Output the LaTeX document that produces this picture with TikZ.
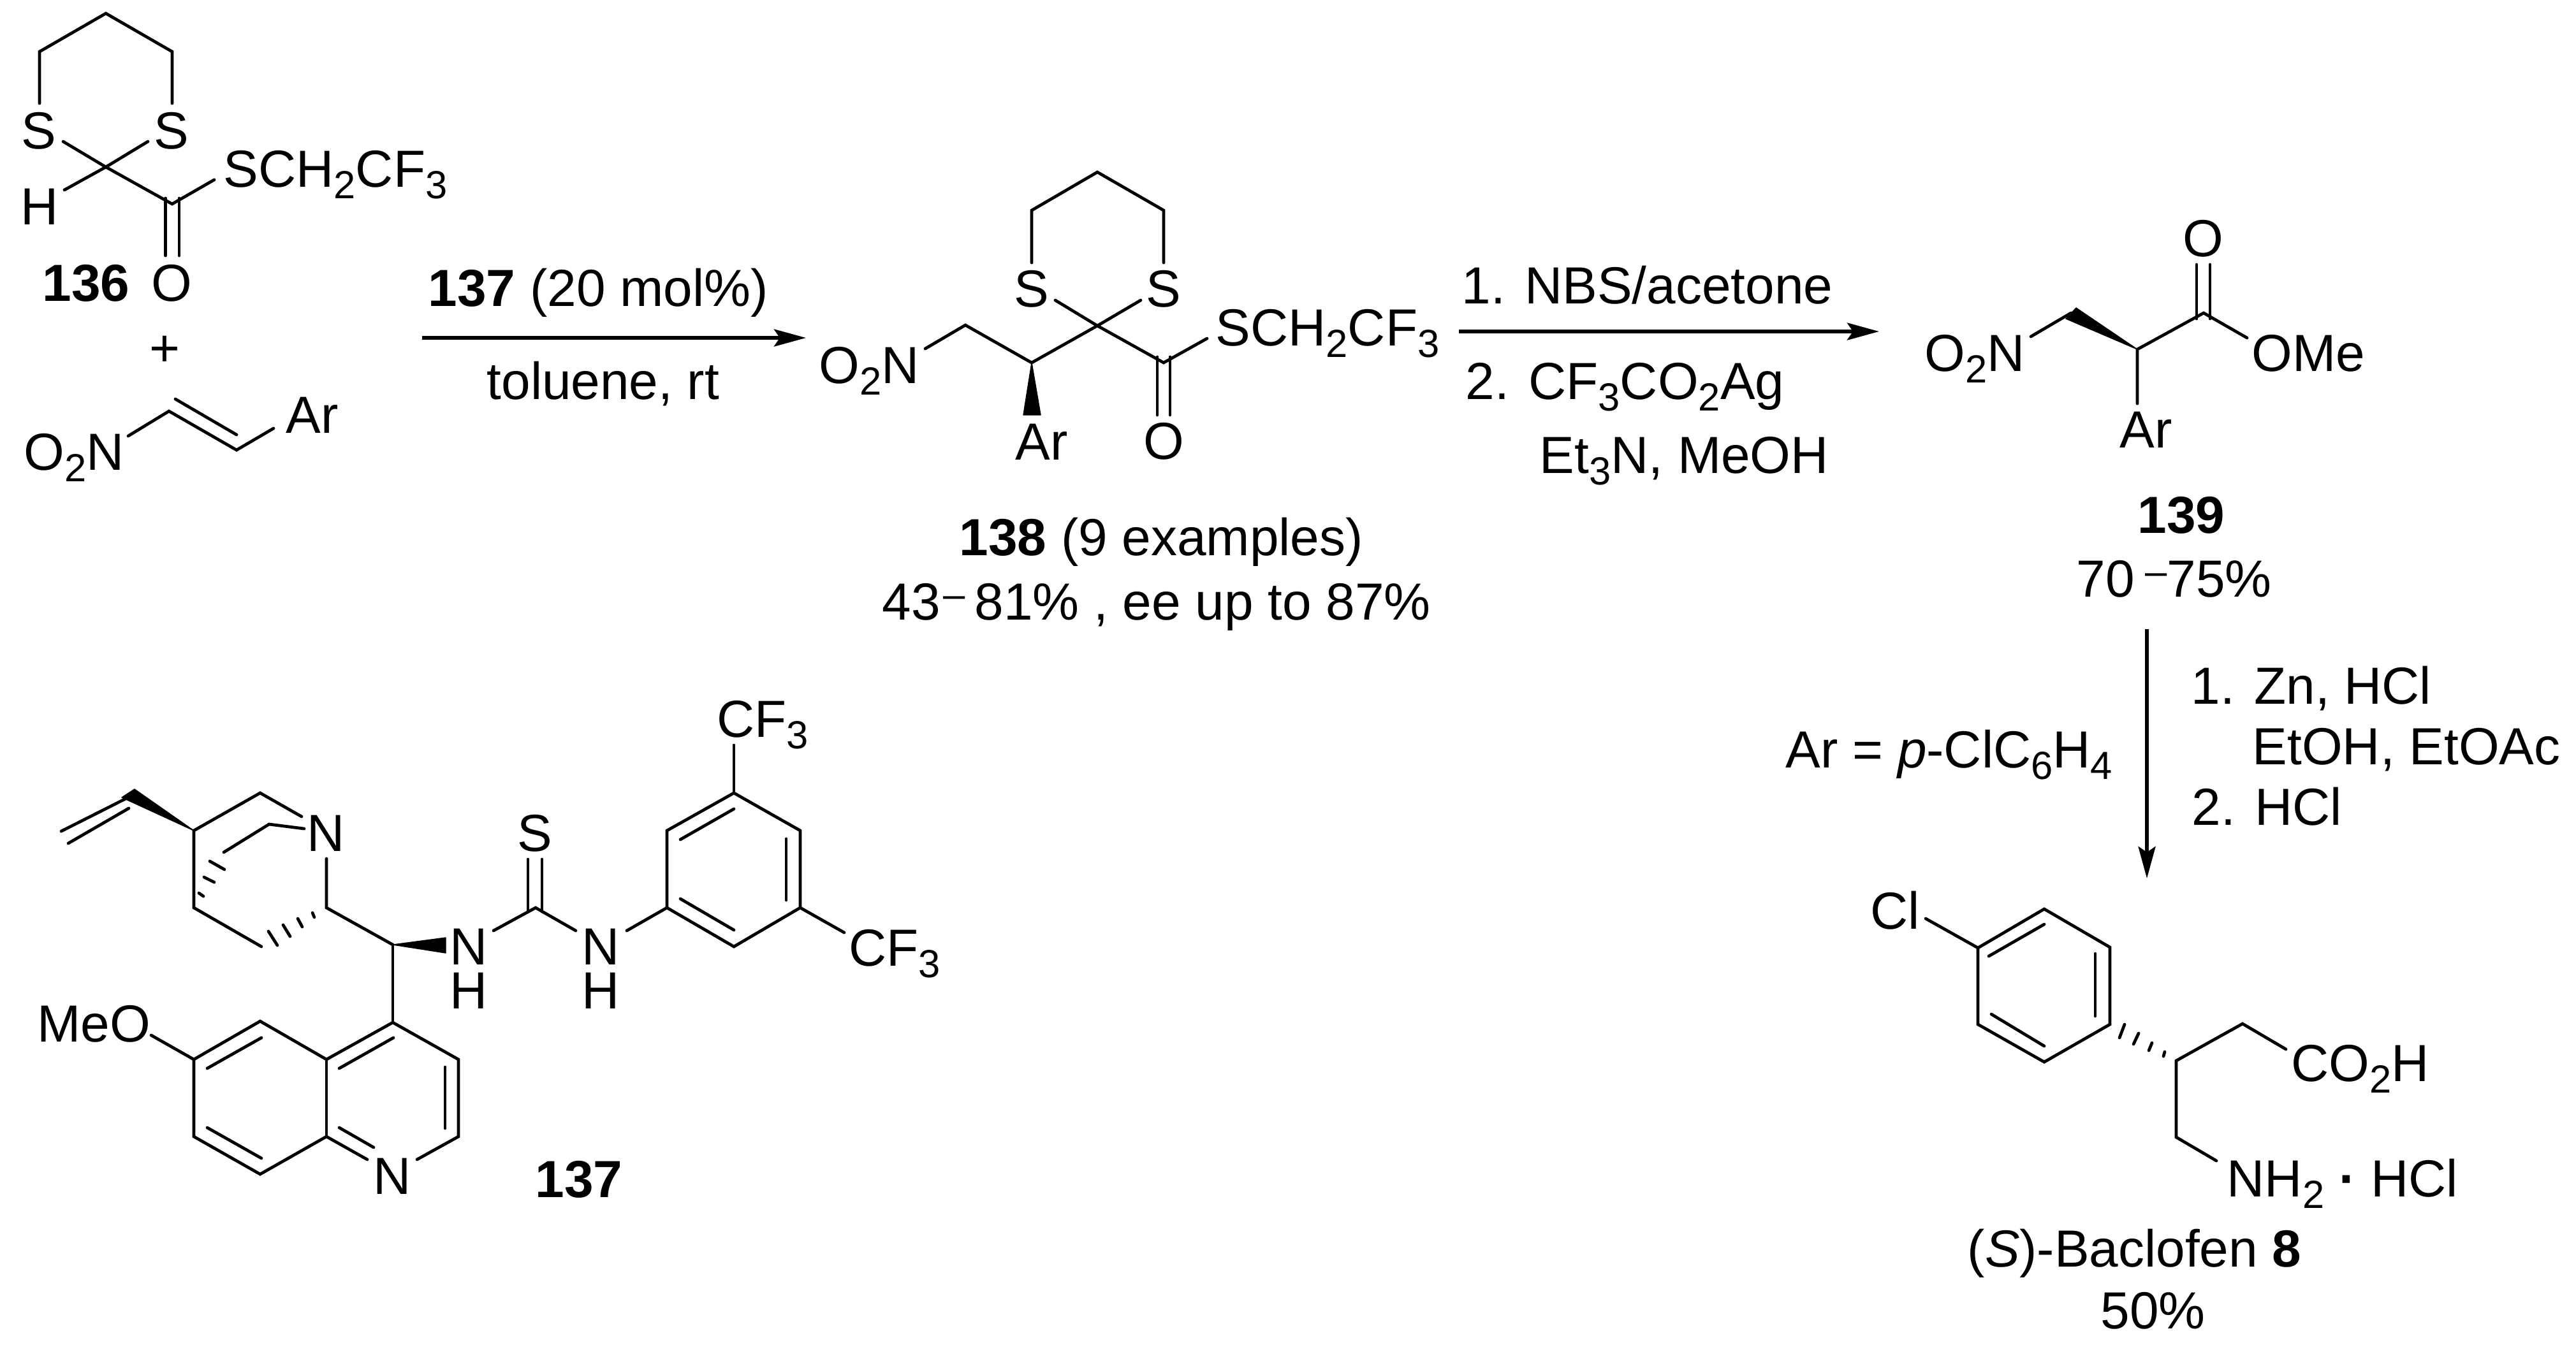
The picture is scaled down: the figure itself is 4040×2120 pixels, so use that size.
\documentclass[tikz,border=0pt]{standalone}
\usepackage{fontspec}
\setmainfont{Liberation Sans}
\usetikzlibrary{arrows.meta}
\newcommand{\chemsub}[1]{\raisebox{-0.23em}{\fontsize{17.5}{17.5}\selectfont #1}}
\newcommand{\chemdash}{\raisebox{0.23em}{\fontsize{17.5}{17.5}\selectfont –}}

\begin{document}
\begin{tikzpicture}[x=0.01cm,y=-0.01cm,
  >={Stealth[length=0.5cm,width=0.27cm,inset=0.09cm]},
  bond/.style={line width=1.35pt,line join=miter,line cap=round},
  rxn/.style={line width=1.5pt},
  wedge/.style={fill=black,draw=black,line width=0.4pt,line join=round},
  hash/.style={line width=1.35pt,line cap=round},
  atom/.style={inner sep=0pt,font=\fontsize{23.3}{28}\selectfont},
  stack/.style={inner sep=0pt,align=center,font=\fontsize{23.3}{19.6}\selectfont},
  lbl/.style={anchor=base west,inner sep=0pt,font=\fontsize{23.3}{28}\selectfont}]
\useasboundingbox (0,0) rectangle (4040,2120);
% 136
\coordinate (a1) at (166,21); \coordinate (a2) at (62,81); \coordinate (a3) at (62,162);
\coordinate (a4) at (270,81); \coordinate (a5) at (270,162);
\coordinate (a6) at (99,222); \coordinate (a7) at (232,222); \coordinate (a8) at (166,262);
\coordinate (a9) at (101,298); \coordinate (a10) at (270,320); \coordinate (a11) at (336,282);
\coordinate (a12) at (259.5,311); \coordinate (a13) at (281,311);
\coordinate (a14) at (259.5,401); \coordinate (a15) at (281,401);
\draw[bond] (a3) -- (a2) -- (a1) -- (a4) -- (a5);
\draw[bond] (a6) -- (a8) -- (a10) -- (a11);
\draw[bond] (a7) -- (a8) -- (a9);
\draw[bond] (a12) -- (a14);
\draw[bond] (a13) -- (a15);
\node[atom] (s1) at (61,205) {S};
\node[atom] (s2) at (269,205) {S};
\node[atom] (h1) at (62,324) {H};
\node[atom] (o1) at (269,444) {O};
\node[lbl] (thioester1) at (350,293) {SCH\chemsub{2}CF\chemsub{3}};
\node[atom,font=\fontsize{23.3}{28}\selectfont\bfseries] (label136) at (135,444) {136};
\node[atom] (plus) at (258,551) {+};
% nitroalkene
\coordinate (n1) at (201,684); \coordinate (n2) at (265,645); \coordinate (n3) at (371,706);
\coordinate (n4) at (429,672); \coordinate (n5) at (275,626); \coordinate (n6) at (371,682);
\draw[bond] (n1) -- (n2) -- (n3) -- (n4);
\draw[bond] (n5) -- (n6);
\node[lbl] (nitro1) at (37,737) {O\chemsub{2}N};
\node[lbl] (ar1) at (448,679) {Ar};
% first arrow
\coordinate (r1) at (662,530); \coordinate (r2) at (1264,530);
\draw[rxn,->] (r1) -- (r2);
\node[lbl] (cond1) at (671,480) {\textbf{137} (20 mol\%)};
\node[lbl] (cond2) at (763,626) {toluene, rt};
% 138
\coordinate (b1) at (1721,270); \coordinate (b2) at (1618,330); \coordinate (b3) at (1618,412);
\coordinate (b4) at (1825,330); \coordinate (b5) at (1825,412);
\coordinate (b6) at (1655,471); \coordinate (b7) at (1789,471); \coordinate (b8) at (1721,511);
\coordinate (b9) at (1618,569); \coordinate (b10) at (1825,569); \coordinate (b11) at (1514,510);
\coordinate (b12) at (1451,547); \coordinate (b13) at (1893,531);
\coordinate (b14) at (1605,651); \coordinate (b15) at (1632,651);
\coordinate (b16) at (1815,560); \coordinate (b17) at (1835,560);
\coordinate (b18) at (1815,651); \coordinate (b19) at (1835,651);
\draw[bond] (b3) -- (b2) -- (b1) -- (b4) -- (b5);
\draw[bond] (b6) -- (b8) -- (b10) -- (b13);
\draw[bond] (b7) -- (b8) -- (b9) -- (b11) -- (b12);
\draw[bond] (b16) -- (b18);
\draw[bond] (b17) -- (b19);
\fill[wedge] (b9) -- (b14) -- (b15) -- cycle;
\node[atom] (s3) at (1618,453) {S};
\node[atom] (s4) at (1825,453) {S};
\node[atom] (o2) at (1825,692) {O};
\node[lbl] (nitro2) at (1284,601) {O\chemsub{2}N};
\node[lbl] (thioester2) at (1906,542) {SCH\chemsub{2}CF\chemsub{3}};
\node[lbl] (ar2) at (1592,721) {Ar};
\node[lbl] (label138) at (1504,871) {\textbf{138} (9 examples)};
\node[lbl] (yield138) at (1383,972) {43\kern.06em\chemdash\kern.18em 81\% , ee up to 87\%};
% second arrow
\coordinate (r3) at (2288,520); \coordinate (r4) at (2947,520);
\draw[rxn,->] (r3) -- (r4);
\node[lbl] (cond3) at (2292,476) {1. NBS/acetone};
\node[lbl] (cond4) at (2298,626) {2. CF\chemsub{3}CO\chemsub{2}Ag};
\node[lbl] (cond5) at (2414,742) {Et\chemsub{3}N, MeOH};
% 139
\coordinate (c1) at (3185,528); \coordinate (c2) at (3248,491); \coordinate (c3) at (3256,483);
\coordinate (c4) at (3240,500); \coordinate (c5) at (3352,548); \coordinate (c6) at (3456,491);
\coordinate (c7) at (3524,530); \coordinate (c8) at (3352,633);
\coordinate (c9) at (3445,500); \coordinate (c10) at (3466,500);
\coordinate (c11) at (3445,415); \coordinate (c12) at (3466,415);
\draw[bond] (c1) -- (c2);
\fill[wedge] (c5) -- (c3) -- (c4) -- cycle;
\draw[bond] (c8) -- (c5) -- (c6) -- (c7);
\draw[bond] (c9) -- (c11);
\draw[bond] (c10) -- (c12);
\node[atom] (o3) at (3455,374) {O};
\node[lbl] (nitro3) at (3018,582) {O\chemsub{2}N};
\node[lbl] (ome1) at (3531,582) {OMe};
\node[lbl] (ar3) at (3324,702) {Ar};
\node[lbl] (label139) at (3352,836) {\textbf{139}};
\node[lbl] (yield139) at (3256,936) {70\kern.2em\chemdash 75\%};
% third arrow
\coordinate (r5) at (3367,987); \coordinate (r6) at (3367,1378);
\draw[rxn,->] (r5) -- (r6);
\node[lbl] (cond6) at (3436,1104) {1. Zn, HCl};
\node[lbl] (cond7) at (3532,1199) {EtOH, EtOAc};
\node[lbl] (cond8) at (3437,1294) {2. HCl};
\node[lbl] (arnote) at (2800,1204) {Ar = \textit{p}-ClC\chemsub{6}H\chemsub{4}};
% baclofen
\coordinate (q1) at (3206,1426); \coordinate (q2) at (3309,1486); \coordinate (q3) at (3309,1607);
\coordinate (q4) at (3206,1666); \coordinate (q5) at (3102,1607); \coordinate (q6) at (3102,1487);
\coordinate (q7) at (3020,1441);
\coordinate (q8) at (3119,1500); \coordinate (q9) at (3206,1450);
\coordinate (q10) at (3286,1496); \coordinate (q11) at (3286,1594);
\coordinate (q12) at (3123,1591); \coordinate (q13) at (3206,1641);
\coordinate (q14) at (3413,1664); \coordinate (q15) at (3517,1606); \coordinate (q16) at (3585,1646);
\coordinate (q17) at (3413,1784); \coordinate (q18) at (3476,1821);
\draw[bond] (q1) -- (q2) -- (q3) -- (q4) -- (q5) -- (q6) -- cycle;
\draw[bond] (q6) -- (q7);
\draw[bond] (q8) -- (q9);
\draw[bond] (q10) -- (q11);
\draw[bond] (q12) -- (q13);
\draw[bond] (q16) -- (q15) -- (q14) -- (q17) -- (q18);
\coordinate (qh1) at (3332,1607); \coordinate (qh2) at (3324,1628);
\coordinate (qh3) at (3354,1621); \coordinate (qh4) at (3346,1638);
\coordinate (qh5) at (3375,1636); \coordinate (qh6) at (3370,1648);
\coordinate (qh7) at (3395,1650); \coordinate (qh8) at (3393,1657);
\draw[hash] (qh1) -- (qh2);
\draw[hash] (qh3) -- (qh4);
\draw[hash] (qh5) -- (qh6);
\draw[hash] (qh7) -- (qh8);
\node[lbl] (cl1) at (2933,1457) {Cl};
\node[lbl] (acid1) at (3593,1696) {CO\chemsub{2}H};
\node[lbl] (amine1) at (3492,1877) {NH\chemsub{2} \textbf{·} HCl};
\node[lbl] (label8) at (3085,1987) {(\textit{S})-Baclofen \textbf{8}};
\node[lbl] (yield8) at (3294,2084) {50\%};
% 137
\coordinate (k1) at (96,1304); \coordinate (k2) at (199,1252); \coordinate (k3) at (107,1323);
\coordinate (k4) at (202,1268); \coordinate (k5) at (211,1238); \coordinate (k6) at (191,1251);
\coordinate (k7) at (304,1303); \coordinate (k8) at (408,1244); \coordinate (k9) at (473,1281);
\coordinate (k10) at (304,1424); \coordinate (k11) at (410,1485); \coordinate (k12) at (512,1347);
\coordinate (k13) at (512,1424); \coordinate (k14) at (616,1482); \coordinate (k15) at (699,1471);
\coordinate (k16) at (699,1495); \coordinate (k17) at (477,1300); \coordinate (k18) at (422,1293);
\coordinate (k19) at (351,1337);
\draw[bond] (k1) -- (k2);
\draw[bond] (k3) -- (k4);
\fill[wedge] (k7) -- (k5) -- (k6) -- cycle;
\draw[bond] (k9) -- (k8) -- (k7) -- (k10) -- (k11);
\draw[bond] (k17) -- (k18) -- (k19);
\draw[bond] (k12) -- (k13) -- (k14);
\fill[wedge] (k14) -- (k15) -- (k16) -- cycle;
\coordinate (kh1) at (329,1351); \coordinate (kh2) at (352,1364);
\coordinate (kh3) at (320,1376); \coordinate (kh4) at (336,1384);
\coordinate (kh5) at (312,1401); \coordinate (kh6) at (319,1406);
\coordinate (kh7) at (421,1461); \coordinate (kh8) at (435,1483);
\coordinate (kh9) at (444,1451); \coordinate (kh10) at (455,1469);
\coordinate (kh11) at (467,1441); \coordinate (kh12) at (474,1454);
\coordinate (kh13) at (490,1432); \coordinate (kh14) at (493,1439);
\draw[hash] (kh1) -- (kh2);
\draw[hash] (kh3) -- (kh4);
\draw[hash] (kh5) -- (kh6);
\draw[hash] (kh7) -- (kh8);
\draw[hash] (kh9) -- (kh10);
\draw[hash] (kh11) -- (kh12);
\draw[hash] (kh13) -- (kh14);
% quinoline
\coordinate (m1) at (616,1604); \coordinate (m2) at (719,1662); \coordinate (m3) at (719,1783);
\coordinate (m4) at (654,1819); \coordinate (m5) at (576,1819); \coordinate (m6) at (512,1783);
\coordinate (m7) at (512,1662); \coordinate (m8) at (408,1602); \coordinate (m9) at (304,1662);
\coordinate (m10) at (304,1783); \coordinate (m11) at (408,1842); \coordinate (m12) at (237,1624);
\coordinate (m13) at (532,1676); \coordinate (m14) at (617,1628);
\coordinate (m15) at (698,1674); \coordinate (m16) at (698,1770);
\coordinate (m17) at (532,1769); \coordinate (m18) at (586,1800);
\coordinate (m19) at (325,1676); \coordinate (m20) at (410,1628);
\coordinate (m21) at (325,1769); \coordinate (m22) at (410,1817);
\draw[bond] (k14) -- (m1);
\draw[bond] (m4) -- (m3) -- (m2) -- (m1) -- (m7) -- (m8) -- (m9) -- (m10) -- (m11) -- (m6) -- (m5);
\draw[bond] (m6) -- (m7);
\draw[bond] (m12) -- (m9);
\draw[bond] (m13) -- (m14);
\draw[bond] (m15) -- (m16);
\draw[bond] (m17) -- (m18);
\draw[bond] (m19) -- (m20);
\draw[bond] (m21) -- (m22);
% thiourea and aryl
\coordinate (t1) at (774,1460); \coordinate (t2) at (840,1424); \coordinate (t3) at (903,1460);
\coordinate (t4) at (983,1460); \coordinate (t5) at (828,1430); \coordinate (t6) at (850,1430);
\coordinate (t7) at (828,1348); \coordinate (t8) at (850,1348);
\coordinate (t9) at (1046,1424); \coordinate (t10) at (1046,1303); \coordinate (t11) at (1151,1244);
\coordinate (t12) at (1255,1303); \coordinate (t13) at (1255,1424); \coordinate (t14) at (1151,1485);
\coordinate (t15) at (1067,1317); \coordinate (t16) at (1151,1269);
\coordinate (t17) at (1233,1316); \coordinate (t18) at (1233,1412);
\coordinate (t19) at (1067,1410); \coordinate (t20) at (1151,1459);
\coordinate (t21) at (1151,1169); \coordinate (t22) at (1324,1463);
\draw[bond] (t1) -- (t2) -- (t3);
\draw[bond] (t5) -- (t7);
\draw[bond] (t6) -- (t8);
\draw[bond] (t4) -- (t9);
\draw[bond] (t9) -- (t10) -- (t11) -- (t12) -- (t13) -- (t14) -- cycle;
\draw[bond] (t15) -- (t16);
\draw[bond] (t17) -- (t18);
\draw[bond] (t19) -- (t20);
\draw[bond] (t11) -- (t21);
\draw[bond] (t13) -- (t22);
\node[atom] (n10) at (511,1307) {N};
\node[stack] (nh1) at (735,1520) {N\\H};
\node[stack] (nh2) at (942,1520) {N\\H};
\node[atom] (s5) at (839,1307) {S};
\node[atom] (n13) at (615,1845) {N};
\node[lbl] (meo1) at (58,1634) {MeO};
\node[lbl] (cf1) at (1124,1156) {CF\chemsub{3}};
\node[lbl] (cf2) at (1331,1515) {CF\chemsub{3}};
\node[lbl] (label137) at (839,1878) {\textbf{137}};
\end{tikzpicture}
\end{document}
